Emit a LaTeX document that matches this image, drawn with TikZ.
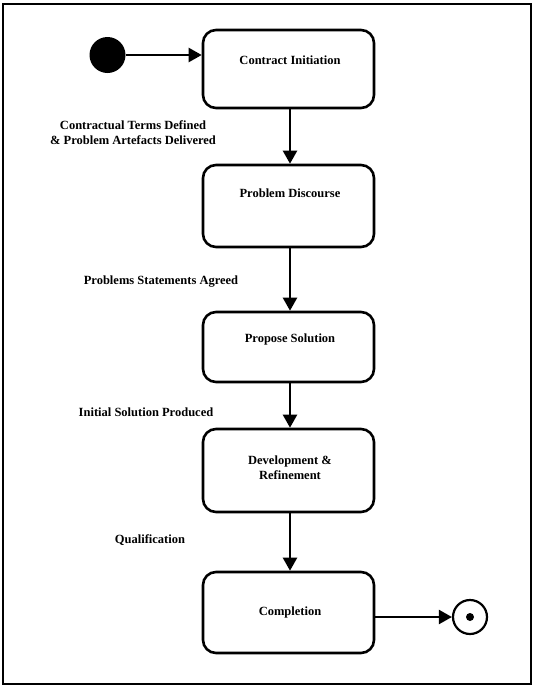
\documentclass[tikz,border=0pt]{standalone}
\usepackage{fontspec}
\setmainfont{Liberation Serif}
\usetikzlibrary{arrows.meta}
\begin{document}
\begin{tikzpicture}[x=1pt,y=-1pt,
  every node/.style={font=\fontsize{12.5}{15}\selectfont\bfseries},
  statebox/.style={draw, line width=2.6pt, rounded corners=13pt,
    minimum width=171pt, inner sep=0pt},
  boxtext/.style={align=center, inner sep=0pt},
  evlabel/.style={align=center, inner sep=0pt},
  flow/.style={line width=2.3pt, -{Triangle[length=13pt,width=14pt]}}]
  \useasboundingbox (0,0) rectangle (534,689);
  % outer frame
  \draw[line width=1.6pt] (3,4) rectangle (531,684);

  % initial and final pseudo-states
  \node[circle, fill=black, minimum size=36pt, inner sep=0pt] (start) at (107.5,55) {};
  \node[circle, draw, line width=2.2pt, minimum size=34pt, inner sep=0pt] (endc) at (470,617) {};
  \fill (endc.center) circle (4pt);

  % states
  \node[statebox, minimum height=78pt] (c1) at (288.5,69) {};
  \node[statebox, minimum height=82pt] (c2) at (288.5,206) {};
  \node[statebox, minimum height=70pt] (c3) at (288.5,347) {};
  \node[statebox, minimum height=83pt] (c4) at (288.5,470.5) {};
  \node[statebox, minimum height=81pt] (c5) at (288.5,612.5) {};

  \node[boxtext] (t1) at (290,60) {Contract Initiation};
  \node[boxtext] (t2) at (290,193) {Problem Discourse};
  \node[boxtext] (t3) at (290,339) {Propose Solution};
  \node[boxtext] (t4) at (290,467.5) {Development \&\\Refinement};
  \node[boxtext] (t5) at (290,612) {Completion};

  % transition labels
  \node[evlabel] (l1) at (133,132.5) {Contractual Terms Defined\\\& Problem Artefacts Delivered};
  \node[evlabel] (l2) at (161,282) {Problems Statements Agreed};
  \node[evlabel] (l3) at (146,412) {Initial Solution Produced};
  \node[evlabel] (l4) at (150,540) {Qualification};

  % transitions
  \draw[flow] (start) -- (c1.west |- start);
  \draw[flow] (c1.south -| 290,0) -- (c2.north -| 290,0);
  \draw[flow] (c2.south -| 290,0) -- (c3.north -| 290,0);
  \draw[flow] (c3.south -| 290,0) -- (c4.north -| 290,0);
  \draw[flow] (c4.south -| 290,0) -- (c5.north -| 290,0);
  \draw[flow] (c5.east |- endc) -- (endc);
\end{tikzpicture}
\end{document}
